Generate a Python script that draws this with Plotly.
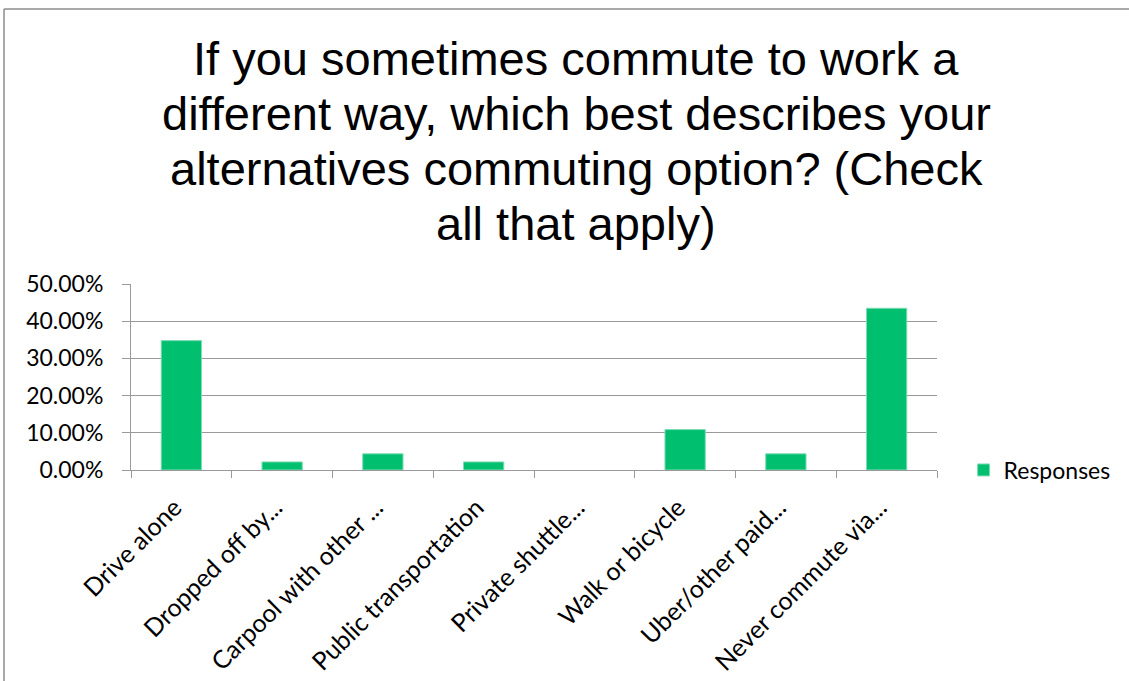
import plotly.graph_objects as go

# Survey answers and share of respondents for each option
categories = [
    "Drive alone",
    "Dropped off by...",
    "Carpool with other ...",
    "Public transportation",
    "Private shuttle...",
    "Walk or bicycle",
    "Uber/other paid...",
    "Never commute via...",
]
responses = [0.3478, 0.0217, 0.0435, 0.0217, 0.0, 0.1087, 0.0435, 0.4348]
y_ticks = [0, 0.1, 0.2, 0.3, 0.4, 0.5]

title_lines = [
    "If you sometimes commute to work a",
    "different way, which best describes your",
    "alternatives commuting option? (Check",
    "all that apply)",
]

GREEN = "#00BF6F"
GRID = "#9a9a9a"
LABEL_FONT = dict(family="Lato, Calibri, Arial", size=23, color="#000000")
XLABEL_FONT = dict(family="Lato, Calibri, Arial", size=25, color="#000000")

# Plot area in pixels, used to place paper-referenced items
PLOT_TOP, PLOT_BOTTOM = 284, 470
PLOT_LEFT, PLOT_RIGHT = 131, 937


def py(px):
    """Pixel row -> paper y."""
    return (PLOT_BOTTOM - px) / (PLOT_BOTTOM - PLOT_TOP)


def pxr(px):
    """Pixel column -> paper x."""
    return (px - PLOT_LEFT) / (PLOT_RIGHT - PLOT_LEFT)


fig = go.Figure()
fig.add_trace(go.Bar(
    x=categories,
    y=responses,
    name="Responses",
    marker=dict(
        color=GREEN,
        line=dict(color="#7fdcb5", width=[1 if v > 0 else 0 for v in responses]),
    ),
    showlegend=True,
))

fig.update_layout(
    width=1129,
    height=681,
    margin=dict(l=PLOT_LEFT, r=1129 - PLOT_RIGHT, t=PLOT_TOP, b=681 - PLOT_BOTTOM,
                autoexpand=False),
    paper_bgcolor="white",
    plot_bgcolor="white",
    bargap=0.6,
    showlegend=True,
    legend=dict(
        x=1.033,
        xanchor="left",
        y=0.0,
        yanchor="middle",
        font=LABEL_FONT,
        bgcolor="rgba(0,0,0,0)",
    ),
    xaxis=dict(
        type="category",
        automargin=False,
        tickangle=-45,
        tickfont=XLABEL_FONT,
        showline=True,
        linecolor=GRID,
        linewidth=1,
        ticks="outside",
        tickson="boundaries",
        ticklen=7,
        tickcolor=GRID,
        ticklabelstandoff=12,
        ticklabelshift=-7,
        showgrid=False,
        fixedrange=True,
    ),
    yaxis=dict(
        range=[0, 0.5],
        automargin=False,
        tickvals=y_ticks,
        tickformat=".2%",
        tickfont=LABEL_FONT,
        showline=True,
        linecolor=GRID,
        linewidth=1,
        ticks="outside",
        ticklen=8,
        tickcolor=GRID,
        ticklabelstandoff=14,
        showgrid=True,
        gridcolor=GRID,
        gridwidth=1,
        zeroline=False,
        fixedrange=True,
    ),
)

# Chart title, one line per annotation for tighter line spacing
for i, line in enumerate(title_lines):
    fig.add_annotation(
        text=line,
        xref="paper", yref="paper",
        x=pxr(576), y=py(58 + 55 * i),
        xanchor="center", yanchor="middle",
        showarrow=False,
        font=dict(family="Liberation Sans, Arial", size=47, color="#000000"),
    )

# Outer chart frame (top and left edges)
fig.add_shape(type="line", xref="paper", yref="paper",
              x0=pxr(4), x1=pxr(1140), y0=py(9), y1=py(9),
              line=dict(color="#8c8c8c", width=1.5))
fig.add_shape(type="line", xref="paper", yref="paper",
              x0=pxr(4), x1=pxr(4), y0=py(9), y1=py(700),
              line=dict(color="#8c8c8c", width=1.5))

fig.write_html("out.html")
